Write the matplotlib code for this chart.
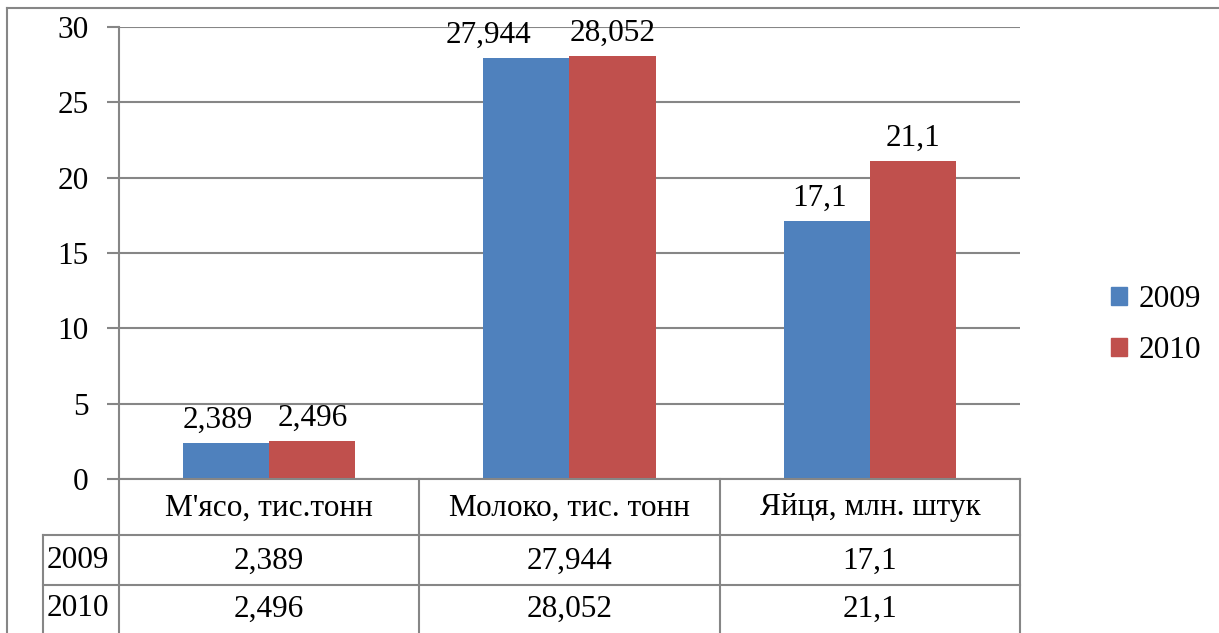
import matplotlib
matplotlib.use("Agg")
import matplotlib.pyplot as plt
from matplotlib.lines import Line2D
from matplotlib.patches import Patch

categories = ["М'ясо, тис.тонн", "Молоко, тис. тонн", "Яйця, млн. штук"]
series_names = ["2009", "2010"]
values_2009 = [2.389, 27.944, 17.1]
values_2010 = [2.496, 28.052, 21.1]
y_ticks = [0, 5, 10, 15, 20, 25, 30]

colors = ["#4F81BD", "#C0504D"]
grid_c = "#868686"
FS = 22.5
plt.rcParams['font.family'] = ['Liberation Serif', 'DejaVu Serif']

W, H = 1219, 633
fig = plt.figure(figsize=(W / 100, H / 100), dpi=100)

def fx(px):
    return px / W

def fy(py):
    return 1 - py / H

ax_l, ax_r, ax_t, ax_b = 119, 1020, 27, 479
ax = fig.add_axes([fx(ax_l), fy(ax_b), fx(ax_r - ax_l), (ax_b - ax_t) / H])

n = len(categories)
xs = list(range(n))
bw = 0.287
b1 = ax.bar([x - bw / 2 for x in xs], values_2009, bw, color=colors[0], label=series_names[0])
b2 = ax.bar([x + bw / 2 for x in xs], values_2010, bw, color=colors[1], label=series_names[1])

fmt = lambda v: str(v).replace('.', ',')
pad = 6
lab1 = ax.bar_label(b1, labels=[fmt(v) for v in values_2009], padding=pad, fontsize=FS)
lab2 = ax.bar_label(b2, labels=[fmt(v) for v in values_2010], padding=pad, fontsize=FS)
# horizontal nudges (pixels) of 2009 labels to avoid overlapping neighbours, as in the original
nudge_px = [-8, -38, -7]
for a, dx in zip(lab1, nudge_px):
    a.xyann = (dx * 0.72, pad)

ax.set_xlim(-0.5, n - 0.5)
ax.set_ylim(0, 30)
ax.set_yticks(y_ticks)
ax.set_yticklabels([str(t) for t in y_ticks], fontsize=FS)
ax.set_xticks([])
ax.tick_params(axis='y', length=9, width=1.5, color=grid_c, pad=13)
ax.yaxis.grid(True, color=grid_c, linewidth=1.5)
ax.set_axisbelow(True)
for s in ['top', 'right', 'bottom']:
    ax.spines[s].set_visible(False)
ax.spines['left'].set_color(grid_c)
ax.spines['left'].set_linewidth(1.5)

# Data table below the axes
lw = 1.5
def hline(y, x0, x1):
    fig.add_artist(Line2D([fx(x0), fx(x1)], [fy(y), fy(y)], color=grid_c, lw=lw))

def vline(x, y0, y1):
    fig.add_artist(Line2D([fx(x), fx(x)], [fy(y0), fy(y1)], color=grid_c, lw=lw))

col_edges = [119, 419, 720, 1020]
row_edges = [479, 535, 585, 633]
lab_l = 43
hline(479, 119, 1020)
hline(535, lab_l, 1020)
hline(585, lab_l, 1020)
for x in col_edges:
    vline(x, 479, 633)
vline(lab_l, 535, 633)

for i, c in enumerate(categories):
    cx = (col_edges[i] + col_edges[i + 1]) / 2
    fig.text(fx(cx), fy(508), c, ha='center', va='center', fontsize=FS)
rows = [values_2009, values_2010]
row_cy = [561, 609]
for r, (name, vals) in enumerate(zip(series_names, rows)):
    cy = row_cy[r]
    fig.text(fx(lab_l + 4), fy(cy), name, ha='left', va='center', fontsize=FS)
    for i, v in enumerate(vals):
        cx = (col_edges[i] + col_edges[i + 1]) / 2
        fig.text(fx(cx), fy(cy), fmt(v), ha='center', va='center', fontsize=FS)

# Outer chart border
vline(7, 8, 633)
hline(8, 7, 1219)

handles = [Patch(color=colors[0]), Patch(color=colors[1])]
fig.legend(handles, series_names, loc='center left', bbox_to_anchor=(fx(1083), fy(325)),
           frameon=False, fontsize=FS, handlelength=0.5, handleheight=0.5,
           handletextpad=0.38, labelspacing=0.72)

fig.savefig("out.png", dpi=100)
